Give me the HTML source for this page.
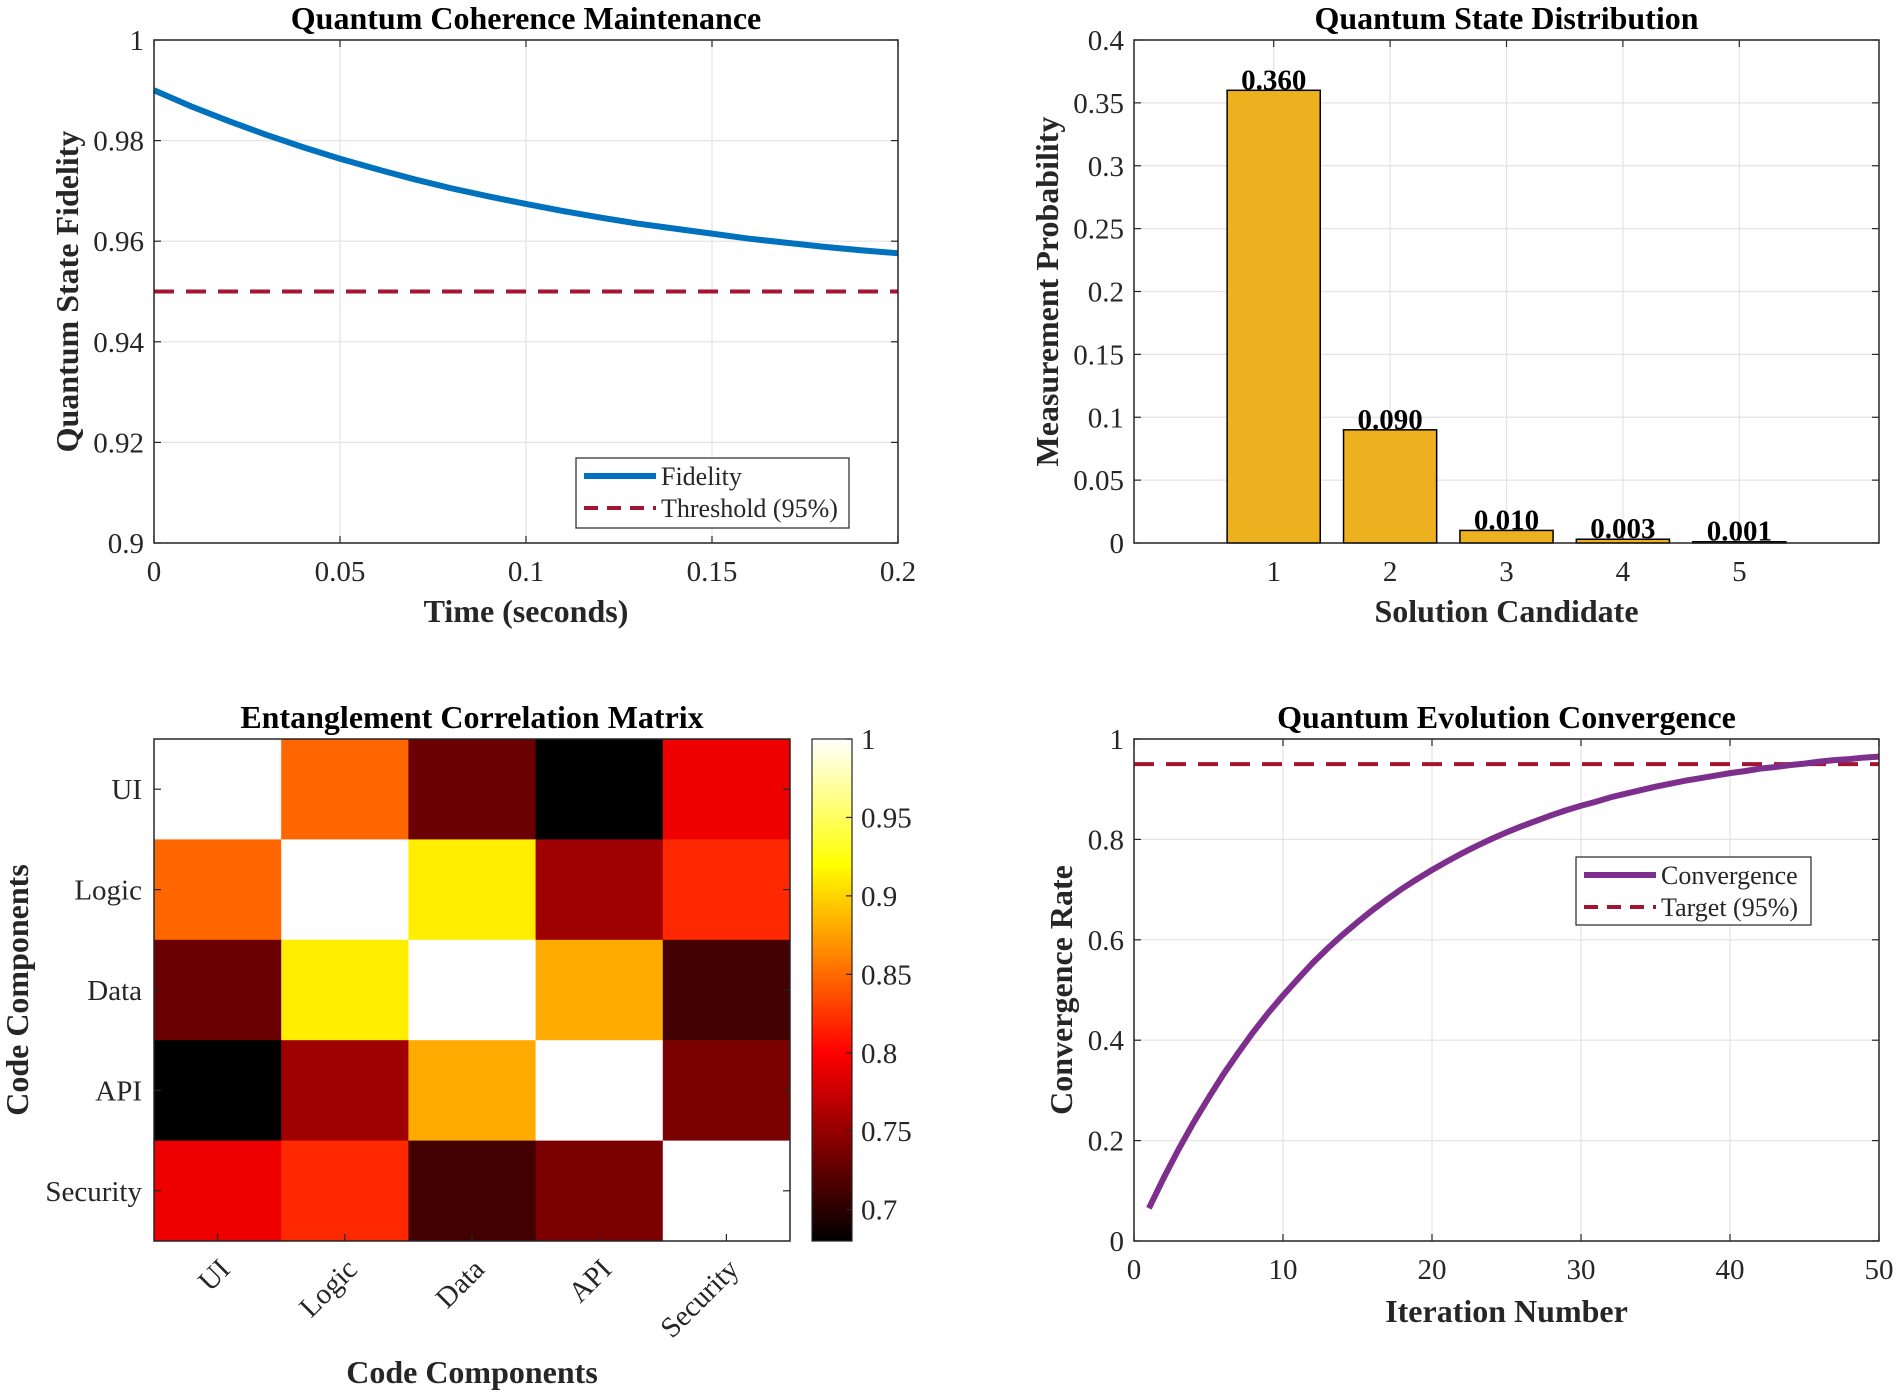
<!DOCTYPE html>
<html><head><meta charset="utf-8"><style>
body{margin:0;background:#fff;}
svg{display:block;font-family:"Liberation Serif",serif;}
</style></head><body>
<svg id="fig" width="1902" height="1392" viewBox="0 0 1902 1392" xmlns="http://www.w3.org/2000/svg"></svg>
<script>
// ---------- data ----------
const fidTime = [0,0.01,0.02,0.03,0.04,0.05,0.06,0.07,0.08,0.09,0.1,0.11,0.12,0.13,0.14,0.15,0.16,0.17,0.18,0.19,0.2];
const fidValues = [0.9900,0.9868,0.9839,0.9812,0.9787,0.9764,0.9743,0.9723,0.9705,0.9689,0.9674,0.9660,0.9647,0.9635,0.9625,0.9615,0.9605,0.9597,0.9589,0.9582,0.9576];
const fidThreshold = 0.95;
const fidXTicks = [0,0.05,0.1,0.15,0.2];
const fidXTickLabels = ["0","0.05","0.1","0.15","0.2"];
const fidYTicks = [0.9,0.92,0.94,0.96,0.98,1];
const fidYTickLabels = ["0.9","0.92","0.94","0.96","0.98","1"];

const barCats = [1,2,3,4,5];
const barValues = [0.360,0.090,0.010,0.003,0.001];
const barLabels = ["0.360","0.090","0.010","0.003","0.001"];
const barYTicks = [0,0.05,0.1,0.15,0.2,0.25,0.3,0.35,0.4];
const barYTickLabels = ["0","0.05","0.1","0.15","0.2","0.25","0.3","0.35","0.4"];

const hmLabels = ["UI","Logic","Data","API","Security"];
const hmRow0 = [1.000,0.848,0.730,0.680,0.792];
const hmRow1 = [0.848,1.000,0.912,0.755,0.819];
const hmRow2 = [0.730,0.912,1.000,0.880,0.711];
const hmRow3 = [0.680,0.755,0.880,1.000,0.738];
const hmRow4 = [0.792,0.819,0.711,0.738,1.000];
const cbTicks = [0.7,0.75,0.8,0.85,0.9,0.95,1];
const cbTickLabels = ["0.7","0.75","0.8","0.85","0.9","0.95","1"];

const convIter = [1,2,3,4,5,6,7,8,9,10,11,12,13,14,15,16,17,18,19,20,21,22,23,24,25,26,27,28,29,30,31,32,33,34,35,36,37,38,39,40,41,42,43,44,45,46,47,48,49,50];
const convValues = [0.065,0.126,0.183,0.236,0.285,0.332,0.375,0.416,0.454,0.489,0.522,0.554,0.583,0.610,0.635,0.659,0.681,0.702,0.721,0.739,0.756,0.772,0.787,0.801,0.814,0.826,0.837,0.848,0.858,0.867,0.875,0.884,0.891,0.898,0.905,0.911,0.917,0.922,0.927,0.932,0.936,0.941,0.944,0.948,0.951,0.955,0.958,0.960,0.963,0.965];
const convTarget = 0.95;
const convXTicks = [0,10,20,30,40,50];
const convXTickLabels = ["0","10","20","30","40","50"];
const convYTicks = [0,0.2,0.4,0.6,0.8,1];
const convYTickLabels = ["0","0.2","0.4","0.6","0.8","1"];

// ---------- helpers ----------
const NS="http://www.w3.org/2000/svg";
const svg=document.getElementById('fig');
const TICK_FS=29;
function el(tag,attrs,parent,text){
  const e=document.createElementNS(NS,tag);
  for(const k in attrs)e.setAttribute(k,attrs[k]);
  if(text!==undefined)e.textContent=text;
  (parent||svg).appendChild(e);return e;
}
function scale(d0,d1,r0,r1){return v=>r0+(v-d0)/(d1-d0)*(r1-r0);}
function axesFrame(g,L,T,R,B){
  const f=el('rect',{x:L,y:T,width:R-L,height:B-T,fill:'none',stroke:'#262626','stroke-width':1.5},g);
  
  
}
function title(g,x,y,t){
  const e=el('text',{x:x,y:y,'text-anchor':'middle','font-size':32,'font-weight':'bold',fill:'#000'},g,t);
  
  
}
function xlabel(g,x,y,t){
  const e=el('text',{x:x,y:y,'text-anchor':'middle','font-size':32,'font-weight':'bold',fill:'#262626'},g,t);
  
  
}
function ylabel(g,x,y,t){
  const e=el('text',{x:x,y:y,'text-anchor':'middle','font-size':32,'font-weight':'bold',fill:'#262626',transform:`rotate(-90 ${x} ${y})`},g,t);
  
  
}
function gridAndTicks(g,L,T,R,B,xs,xt,xl,ys,yt,yl,grid){
  xt.forEach((v,i)=>{
    const x=xs(v);
    if(grid){const gl=el('line',{x1:x,y1:T,x2:x,y2:B,stroke:'#e3e3e3','stroke-width':1.2},g);
      
      }
    el('line',{x1:x,y1:B,x2:x,y2:B-7,stroke:'#262626','stroke-width':1.2},g);
    el('line',{x1:x,y1:T,x2:x,y2:T+7,stroke:'#262626','stroke-width':1.2},g);
    const t=el('text',{x:x,y:B+38,'text-anchor':'middle','font-size':TICK_FS,fill:'#262626'},g,xl[i]);
    
    
  });
  yt.forEach((v,i)=>{
    const y=ys(v);
    if(grid){const gl=el('line',{x1:L,y1:y,x2:R,y2:y,stroke:'#e3e3e3','stroke-width':1.2},g);
      
      }
    el('line',{x1:L,y1:y,x2:L+7,y2:y,stroke:'#262626','stroke-width':1.2},g);
    el('line',{x1:R,y1:y,x2:R-7,y2:y,stroke:'#262626','stroke-width':1.2},g);
    const t=el('text',{x:L-10,y:y+10,'text-anchor':'end','font-size':TICK_FS,fill:'#262626'},g,yl[i]);
    
    
  });
}
function legend(g,x,y,w,h,items){
  const b=el('rect',{x:x,y:y,width:w,height:h,fill:'#fff',stroke:'#262626','stroke-width':1.2},g);
  
  
  items.forEach((it,i)=>{
    const yy=y+18+i*32;
    const ln=el('line',{x1:x+8,y1:yy,x2:x+80,y2:yy,stroke:it.c,'stroke-width':it.dash?4:6,'stroke-dasharray':it.dash?'14 9':'none'},g);
    
    
    const t=el('text',{x:x+85,y:yy+9,'font-size':26,fill:'#262626'},g,it.t);
    
    
  });
}

// ---------- chart 1: fidelity ----------
(function(){
  const g=el('g',{});
  
  
  const L=154,T=40,R=898,B=543;
  const xs=scale(0,0.2,L,R), ys=scale(0.9,1,B,T);
  gridAndTicks(g,L,T,R,B,xs,fidXTicks,fidXTickLabels,ys,fidYTicks,fidYTickLabels,true);
  const th=el('line',{x1:xs(0),y1:ys(fidThreshold),x2:xs(0.2),y2:ys(fidThreshold),stroke:'#A2142F','stroke-width':4,'stroke-dasharray':'20 12'},g);
  
  
  const d=fidTime.map((t,i)=>(i?'L':'M')+xs(t).toFixed(2)+','+ys(fidValues[i]).toFixed(2)).join(' ');
  const p=el('path',{d:d,fill:'none',stroke:'#0072BD','stroke-width':6},g);
  
  
  axesFrame(g,L,T,R,B);
  legend(g,576,458,273,70,[{c:'#0072BD',t:'Fidelity'},{c:'#A2142F',t:'Threshold (95%)',dash:1}]);
  title(g,(L+R)/2,29,'Quantum Coherence Maintenance');
  xlabel(g,(L+R)/2,622,'Time (seconds)');
  ylabel(g,78,(T+B)/2,'Quantum State Fidelity');
})();

// ---------- chart 2: bars ----------
(function(){
  const g=el('g',{});
  
  
  const L=1134,T=40,R=1879,B=543;
  const xs=scale(-0.2,6.2,L,R), ys=scale(0,0.4,B,T);
  gridAndTicks(g,L,T,R,B,xs,barCats,barCats.map(String),ys,barYTicks,barYTickLabels,true);
  const bw=(xs(0.8)-xs(0));
  barCats.forEach((c,i)=>{
    const x=xs(c)-bw/2, y=ys(barValues[i]);
    const r=el('rect',{x:x,y:y,width:bw,height:B-y,fill:'#EDB120',stroke:'#000','stroke-width':1.5},g);
    
    
    const t=el('text',{x:xs(c),y:y-1,'text-anchor':'middle','font-size':29,'font-weight':'bold',fill:'#000'},g,barLabels[i]);
    
    
  });
  axesFrame(g,L,T,R,B);
  title(g,(L+R)/2,29,'Quantum State Distribution');
  xlabel(g,(L+R)/2,622,'Solution Candidate');
  ylabel(g,1058,(T+B)/2,'Measurement Probability');
})();

// ---------- chart 3: heatmap ----------
function hot(v){
  let r,gg,b;
  if(v<0.375){r=v/0.375;gg=0;b=0;}
  else if(v<0.75){r=1;gg=(v-0.375)/0.375;b=0;}
  else{r=1;gg=1;b=(v-0.75)/0.25;}
  const c=x=>Math.round(Math.max(0,Math.min(1,x))*255);
  return `rgb(${c(r)},${c(gg)},${c(b)})`;
}
(function(){
  const g=el('g',{});
  
  
  const L=154,T=739,R=790,B=1241;
  const cmin=0.68,cmax=1;
  const rows=[hmRow0,hmRow1,hmRow2,hmRow3,hmRow4];
  const n=hmLabels.length, cw=(R-L)/n, ch=(B-T)/n;
  rows.forEach((row,i)=>row.forEach((v,j)=>{
    const r=el('rect',{x:L+j*cw,y:T+i*ch,width:cw+0.5,height:ch+0.5,fill:hot((v-cmin)/(cmax-cmin))},g);
    
    
  }));
  hmLabels.forEach((lab,i)=>{
    const cx=L+(i+0.5)*cw, cy=T+(i+0.5)*ch;
    el('line',{x1:cx,y1:B,x2:cx,y2:B-7,stroke:'#262626','stroke-width':1.2},g);
    el('line',{x1:L,y1:cy,x2:L+7,y2:cy,stroke:'#262626','stroke-width':1.2},g);
    el('line',{x1:R,y1:cy,x2:R-7,y2:cy,stroke:'#262626','stroke-width':1.2},g);
    const ty=el('text',{x:L-12,y:cy+10,'text-anchor':'end','font-size':TICK_FS,fill:'#262626'},g,lab);
    
    
    const tx=el('text',{x:cx+14,y:B+30,'text-anchor':'end','font-size':TICK_FS,fill:'#262626',transform:`rotate(-45 ${cx+14} ${B+30})`},g,lab);
    
    
  });
  axesFrame(g,L,T,R,B);
  // colorbar
  const CL=812,CR=852;
  const cs=scale(cmin,cmax,B,T);
  const defs=el('defs',{},g);
  const lg=el('linearGradient',{id:'hotgrad',x1:0,y1:1,x2:0,y2:0},defs);
  for(let k=0;k<=40;k++){el('stop',{offset:(k/40),'stop-color':hot(k/40)},lg);}
  const cb=el('rect',{x:CL,y:T,width:CR-CL,height:B-T,fill:'url(#hotgrad)',stroke:'#262626','stroke-width':1.2},g);
  
  
  cbTicks.forEach((v,i)=>{
    const y=cs(v);
    el('line',{x1:CR,y1:y,x2:CR-6,y2:y,stroke:'#262626','stroke-width':1.2},g);
    const t=el('text',{x:CR+9,y:y+10,'font-size':TICK_FS,fill:'#262626'},g,cbTickLabels[i]);
    
    
  });
  title(g,(L+R)/2,728,'Entanglement Correlation Matrix');
  xlabel(g,(L+R)/2,1383,'Code Components');
  ylabel(g,28,(T+B)/2,'Code Components');
})();

// ---------- chart 4: convergence ----------
(function(){
  const g=el('g',{});
  
  
  const L=1134,T=739,R=1879,B=1241;
  const xs=scale(0,50,L,R), ys=scale(0,1,B,T);
  gridAndTicks(g,L,T,R,B,xs,convXTicks,convXTickLabels,ys,convYTicks,convYTickLabels,true);
  const tl=el('line',{x1:xs(0),y1:ys(convTarget),x2:xs(50),y2:ys(convTarget),stroke:'#A2142F','stroke-width':4,'stroke-dasharray':'20 12'},g);
  
  
  const d=convIter.map((t,i)=>(i?'L':'M')+xs(t).toFixed(2)+','+ys(convValues[i]).toFixed(2)).join(' ');
  const p=el('path',{d:d,fill:'none',stroke:'#7E2F8E','stroke-width':6},g);
  
  
  axesFrame(g,L,T,R,B);
  legend(g,1576,857,235,68,[{c:'#7E2F8E',t:'Convergence'},{c:'#A2142F',t:'Target (95%)',dash:1}]);
  title(g,(L+R)/2,728,'Quantum Evolution Convergence');
  xlabel(g,(L+R)/2,1322,'Iteration Number');
  ylabel(g,1072,(T+B)/2,'Convergence Rate');
})();
</script>
</body></html>
